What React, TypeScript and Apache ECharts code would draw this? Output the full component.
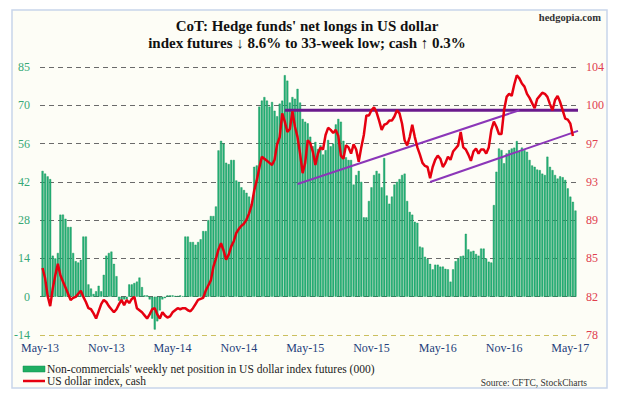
import React, { useEffect, useRef } from 'react';
import * as echarts from 'echarts';

// x-axis tick labels (one every 26 weeks, starting May-13 at week 0)
const xTickLabels = ['May-13', 'Nov-13', 'May-14', 'Nov-14', 'May-15', 'Nov-15', 'May-16', 'Nov-16', 'May-17'];
const weeksPerTick = 26;

// Non-commercials' weekly net position in US dollar index futures (000), weeks 1..210
const netLongs = [
  46, 45, 44, 43, 15, 14, 16, 30, 30, 28.5,
  25.5, 25.5, 16, 13, 12.5, 13.5, 22, 22, 4.5, 3,
  1, 2, 4, 2, 8, 15, 16, 16.5, 12, 7.5,
  -1.5, -2, -1, -1, 4.5, 4.5, 5, 5.5, 7, 3.5,
  0.5, 0.5, -1, -8, -12, -9, -5, -1, -0.5, 0.5,
  0.5, 0.5, 0.3, 0.3, 0.5, 0.2, 22, 22, 20, 20,
  19, 20, 21, 24, 24, 28, 29.5, 29.5, 33, 53.5,
  57, 56, 49, 48.5, 50, 50, 42.5, 42,
  40, 39, 38, 36.6, 34, 47.5, 48, 69.5, 71.7, 73,
  71.7, 69.5, 71.2, 68, 66, 70.6, 71.7, 81, 79, 71,
  73, 72.4, 76, 71, 65, 64, 63.4, 58.5, 55, 56.6,
  54, 55.4, 52, 53.6, 57.3, 55, 56, 63, 65, 64,
  57, 51, 50, 50, 41, 44.5, 46, 42, 29, 29,
  35, 40, 44.5, 46, 45, 40, 50.7, 37, 34, 36.6,
  41, 42, 43, 44.5, 45, 35, 31, 30, 27.4, 27,
  18.3, 18, 14.6, 13.8, 12, 10, 11.7, 11.7, 11, 11,
  10.2, 10, 5.5, 10, 13, 14, 14.8, 15, 23, 17.3,
  16.5, 16.8, 15.6, 15, 17.6, 17.6, 14, 12.8, 12.5, 33.5,
  45.7, 54.2, 53.6, 48.8, 52.4, 53.6, 54.2, 54.5, 56.9, 53,
  54.5, 53.6, 53, 50, 48, 47.5, 46.5, 46.3, 45, 44.5,
  51.2, 47.5, 46.3, 44.5, 43.2, 44, 43.7, 42.7, 39.6, 36.6,
  34.7, 31.5,
];

// US dollar index, cash, weeks 1..209
const dollarIndex = [
  84.5, 83.5, 81.8, 80.8, 82.5, 83.8, 84.9, 83.8, 83.2, 82.6,
  82.0, 81.4, 81.6, 81.7, 82.0, 82.3, 81.7, 81.2, 80.6, 80.5,
  80.1, 79.6, 80.3, 81.0, 81.4, 81.2, 80.8, 80.5, 80.2, 80.5,
  81.0, 81.4, 80.9, 81.4, 81.1, 81.5, 81.7, 80.6, 80.4, 80.2,
  79.9, 79.6, 80.0, 80.5, 80.6, 80.0, 79.6, 80.2, 79.9, 79.7,
  79.8, 80.2, 80.4, 80.6, 80.5, 80.6, 80.6, 80.4, 80.3, 80.6,
  81.0, 81.4, 81.5, 81.6, 82.3, 82.8, 83.3, 84.6, 85.4, 86.3,
  86.9, 86.2, 85.3, 85.8, 86.6, 87.1, 87.9, 88.3, 88.6, 88.8,
  89.2, 89.8, 90.6, 92.0, 93.0, 94.2, 95.3, 95.1, 94.9, 94.7,
  94.5, 95.0, 96.5, 97.2, 99.5, 98.7, 97.7, 98.0, 99.7, 98.2,
  97.2, 95.6, 93.7, 94.7, 96.9, 96.6, 95.8, 94.5, 95.6, 96.2,
  96.0, 97.4, 98.1, 97.9, 97.6, 97.9, 97.3, 95.4, 95.1, 96.4,
  96.2, 95.6, 96.5, 96.0, 94.8, 96.2, 97.4, 99.3, 99.3, 99.8,
  100.1, 99.6, 98.8, 97.9, 98.4, 98.5, 98.8, 98.8, 99.2, 99.8,
  99.5, 98.5, 96.9, 96.4, 97.2, 98.4, 97.2, 96.2, 95.5, 94.7,
  94.4, 94.3, 93.2, 94.3, 95.0, 95.4, 95.1, 94.3, 94.7, 95.3,
  95.0, 95.8, 96.1, 96.4, 97.7, 96.2, 96.0, 95.5, 94.9, 95.8,
  96.1, 95.6, 96.0, 96.0, 95.6, 96.2, 97.9, 98.7, 98.2, 97.5,
  97.5, 99.8, 101.1, 101.4, 101.2, 102.3, 103.2, 102.9, 102.4, 102.1,
  101.4, 101.0, 100.5, 100.0, 100.9, 101.2, 101.5, 101.4, 101.1, 100.4,
  99.8, 100.8, 101.2, 100.6, 99.8, 99.0, 98.9, 98.5, 97.3,
];

// Trend lines drawn on the dollar index (week, index level)
const resistanceLine = [[96, 99.8], [211, 99.8]];
const upperChannel = [[101, 92.65], [188, 99.8]];
const lowerChannel = [[153, 92.85], [211, 97.8]];

const leftTicks = { min: -14, max: 84, step: 14 };
const rightTicks = { min: 78, max: 104, count: 7 };

const titleLines = [
  "CoT: Hedge funds' net longs in US dollar",
  'index futures \u2193 8.6% to 33-week low; cash \u2191 0.3%',
];

const SERIF = "'Liberation Serif', 'Times New Roman', 'DejaVu Serif', serif";

export default function App() {
  const ref = useRef<HTMLDivElement>(null);

  useEffect(() => {
    if (!ref.current) return;
    const chart = echarts.init(ref.current, undefined, { renderer: 'svg' });

    const barData = netLongs.map((v, i) => [i + 1, v]);
    const lineData = dollarIndex.map((v, i) => [i + 1, v]);
    const nLines = (leftTicks.max - leftTicks.min) / leftTicks.step + 1;
    const gridColors = Array.from({ length: nLines }, (_, i) => (i === 0 ? '#cbbf5e' : '#6a6a6a'));

    chart.setOption({
      animation: false,
      backgroundColor: '#ffffff',
      textStyle: { fontFamily: SERIF },
      grid: { left: 40, right: 41, top: 67, bottom: 64, containLabel: false },
      xAxis: {
        type: 'value',
        min: 0,
        max: 211,
        interval: weeksPerTick,
        axisLine: { show: false },
        axisTick: { show: false },
        splitLine: { show: false },
        axisLabel: {
          color: '#24407a',
          fontSize: 12,
          fontFamily: SERIF,
          margin: 7,
          showMaxLabel: false,
          formatter: (v: number) => {
            const k = Math.round(v / weeksPerTick);
            if (Math.abs(v - k * weeksPerTick) < 1e-6 && k < xTickLabels.length) return xTickLabels[k];
            return '';
          },
        },
      },
      yAxis: [
        {
          type: 'value',
          min: leftTicks.min,
          max: leftTicks.max,
          interval: leftTicks.step,
          axisLine: { show: false },
          axisTick: { show: false },
          axisLabel: {
            color: '#37a977',
            fontSize: 12,
            fontFamily: SERIF,
            margin: 10,
            formatter: (v: number) => (v === leftTicks.max ? '85' : String(v)),
          },
          splitLine: { show: true, lineStyle: { type: [5, 4], color: gridColors, width: 1 } },
        },
        {
          type: 'value',
          position: 'right',
          min: rightTicks.min,
          max: rightTicks.max,
          interval: (rightTicks.max - rightTicks.min) / rightTicks.count,
          axisLine: { show: false },
          axisTick: { show: false },
          splitLine: { show: false },
          axisLabel: {
            color: '#e0404e',
            fontSize: 12,
            fontFamily: SERIF,
            margin: 8,
            formatter: (v: number) => String(Math.round(v)),
          },
        },
      ],
      series: [
        {
          name: "Non-commercials' weekly net position in US dollar index futures (000)",
          type: 'bar',
          yAxisIndex: 0,
          data: barData,
          barWidth: 2,
          itemStyle: { color: '#27b27a', borderColor: '#0c8f50', borderWidth: 0.4 },
          z: 2,
        },
        {
          type: 'line',
          yAxisIndex: 1,
          data: resistanceLine,
          symbol: 'none',
          lineStyle: { color: '#6a1a8c', width: 3 },
          z: 3,
        },
        {
          type: 'line',
          yAxisIndex: 1,
          data: upperChannel,
          symbol: 'none',
          lineStyle: { color: '#8b36b8', width: 2 },
          z: 3,
        },
        {
          type: 'line',
          yAxisIndex: 1,
          data: lowerChannel,
          symbol: 'none',
          lineStyle: { color: '#8b36b8', width: 2 },
          z: 3,
        },
        {
          name: 'US dollar index, cash',
          type: 'line',
          yAxisIndex: 1,
          data: lineData,
          symbol: 'none',
          lineStyle: { color: '#e60010', width: 2.5 },
          z: 4,
        },
      ],
      graphic: [
        {
          type: 'rect',
          z: -10,
          silent: true,
          shape: { x: 12, y: 10, width: 595, height: 378 },
          style: { fill: '#fdfdf6', stroke: '#c8d5ea', lineWidth: 1.5 },
        },
        {
          type: 'text',
          style: {
            text: titleLines[0],
            x: 307,
            y: 26,
            textAlign: 'center',
            textVerticalAlign: 'middle',
            font: `bold 15px ${SERIF}`,
            fill: '#111',
          },
        },
        {
          type: 'text',
          style: {
            text: titleLines[1],
            x: 307,
            y: 43,
            textAlign: 'center',
            textVerticalAlign: 'middle',
            font: `bold 15px ${SERIF}`,
            fill: '#111',
          },
        },
        {
          type: 'text',
          style: {
            text: 'hedgopia.com',
            x: 601,
            y: 17,
            textAlign: 'right',
            textVerticalAlign: 'middle',
            font: `bold 10.5px ${SERIF}`,
            fill: '#333',
          },
        },
        {
          type: 'rect',
          shape: { x: 23, y: 366, width: 22, height: 6 },
          style: { fill: '#1fae62', stroke: '#0c8f50', lineWidth: 0.5 },
        },
        {
          type: 'text',
          style: {
            text: "Non-commercials' weekly net position in US dollar index futures (000)",
            x: 47,
            y: 369,
            textVerticalAlign: 'middle',
            font: `11.5px ${SERIF}`,
            fill: '#222',
          },
        },
        {
          type: 'line',
          shape: { x1: 23, y1: 381, x2: 45, y2: 381 },
          style: { stroke: '#e60010', lineWidth: 2.5 },
        },
        {
          type: 'text',
          style: {
            text: 'US dollar index, cash',
            x: 47,
            y: 381,
            textVerticalAlign: 'middle',
            font: `11.5px ${SERIF}`,
            fill: '#222',
          },
        },
        {
          type: 'text',
          style: {
            text: 'Source: CFTC, StockCharts',
            x: 587,
            y: 383,
            textAlign: 'right',
            textVerticalAlign: 'middle',
            font: `9.5px ${SERIF}`,
            fill: '#333',
          },
        },
      ],
    });

    return () => chart.dispose();
  }, []);

  return (
    <div
      ref={ref}
      style={{ position: 'absolute', left: 0, top: 0, width: 619, height: 399 }}
    />
  );
}
